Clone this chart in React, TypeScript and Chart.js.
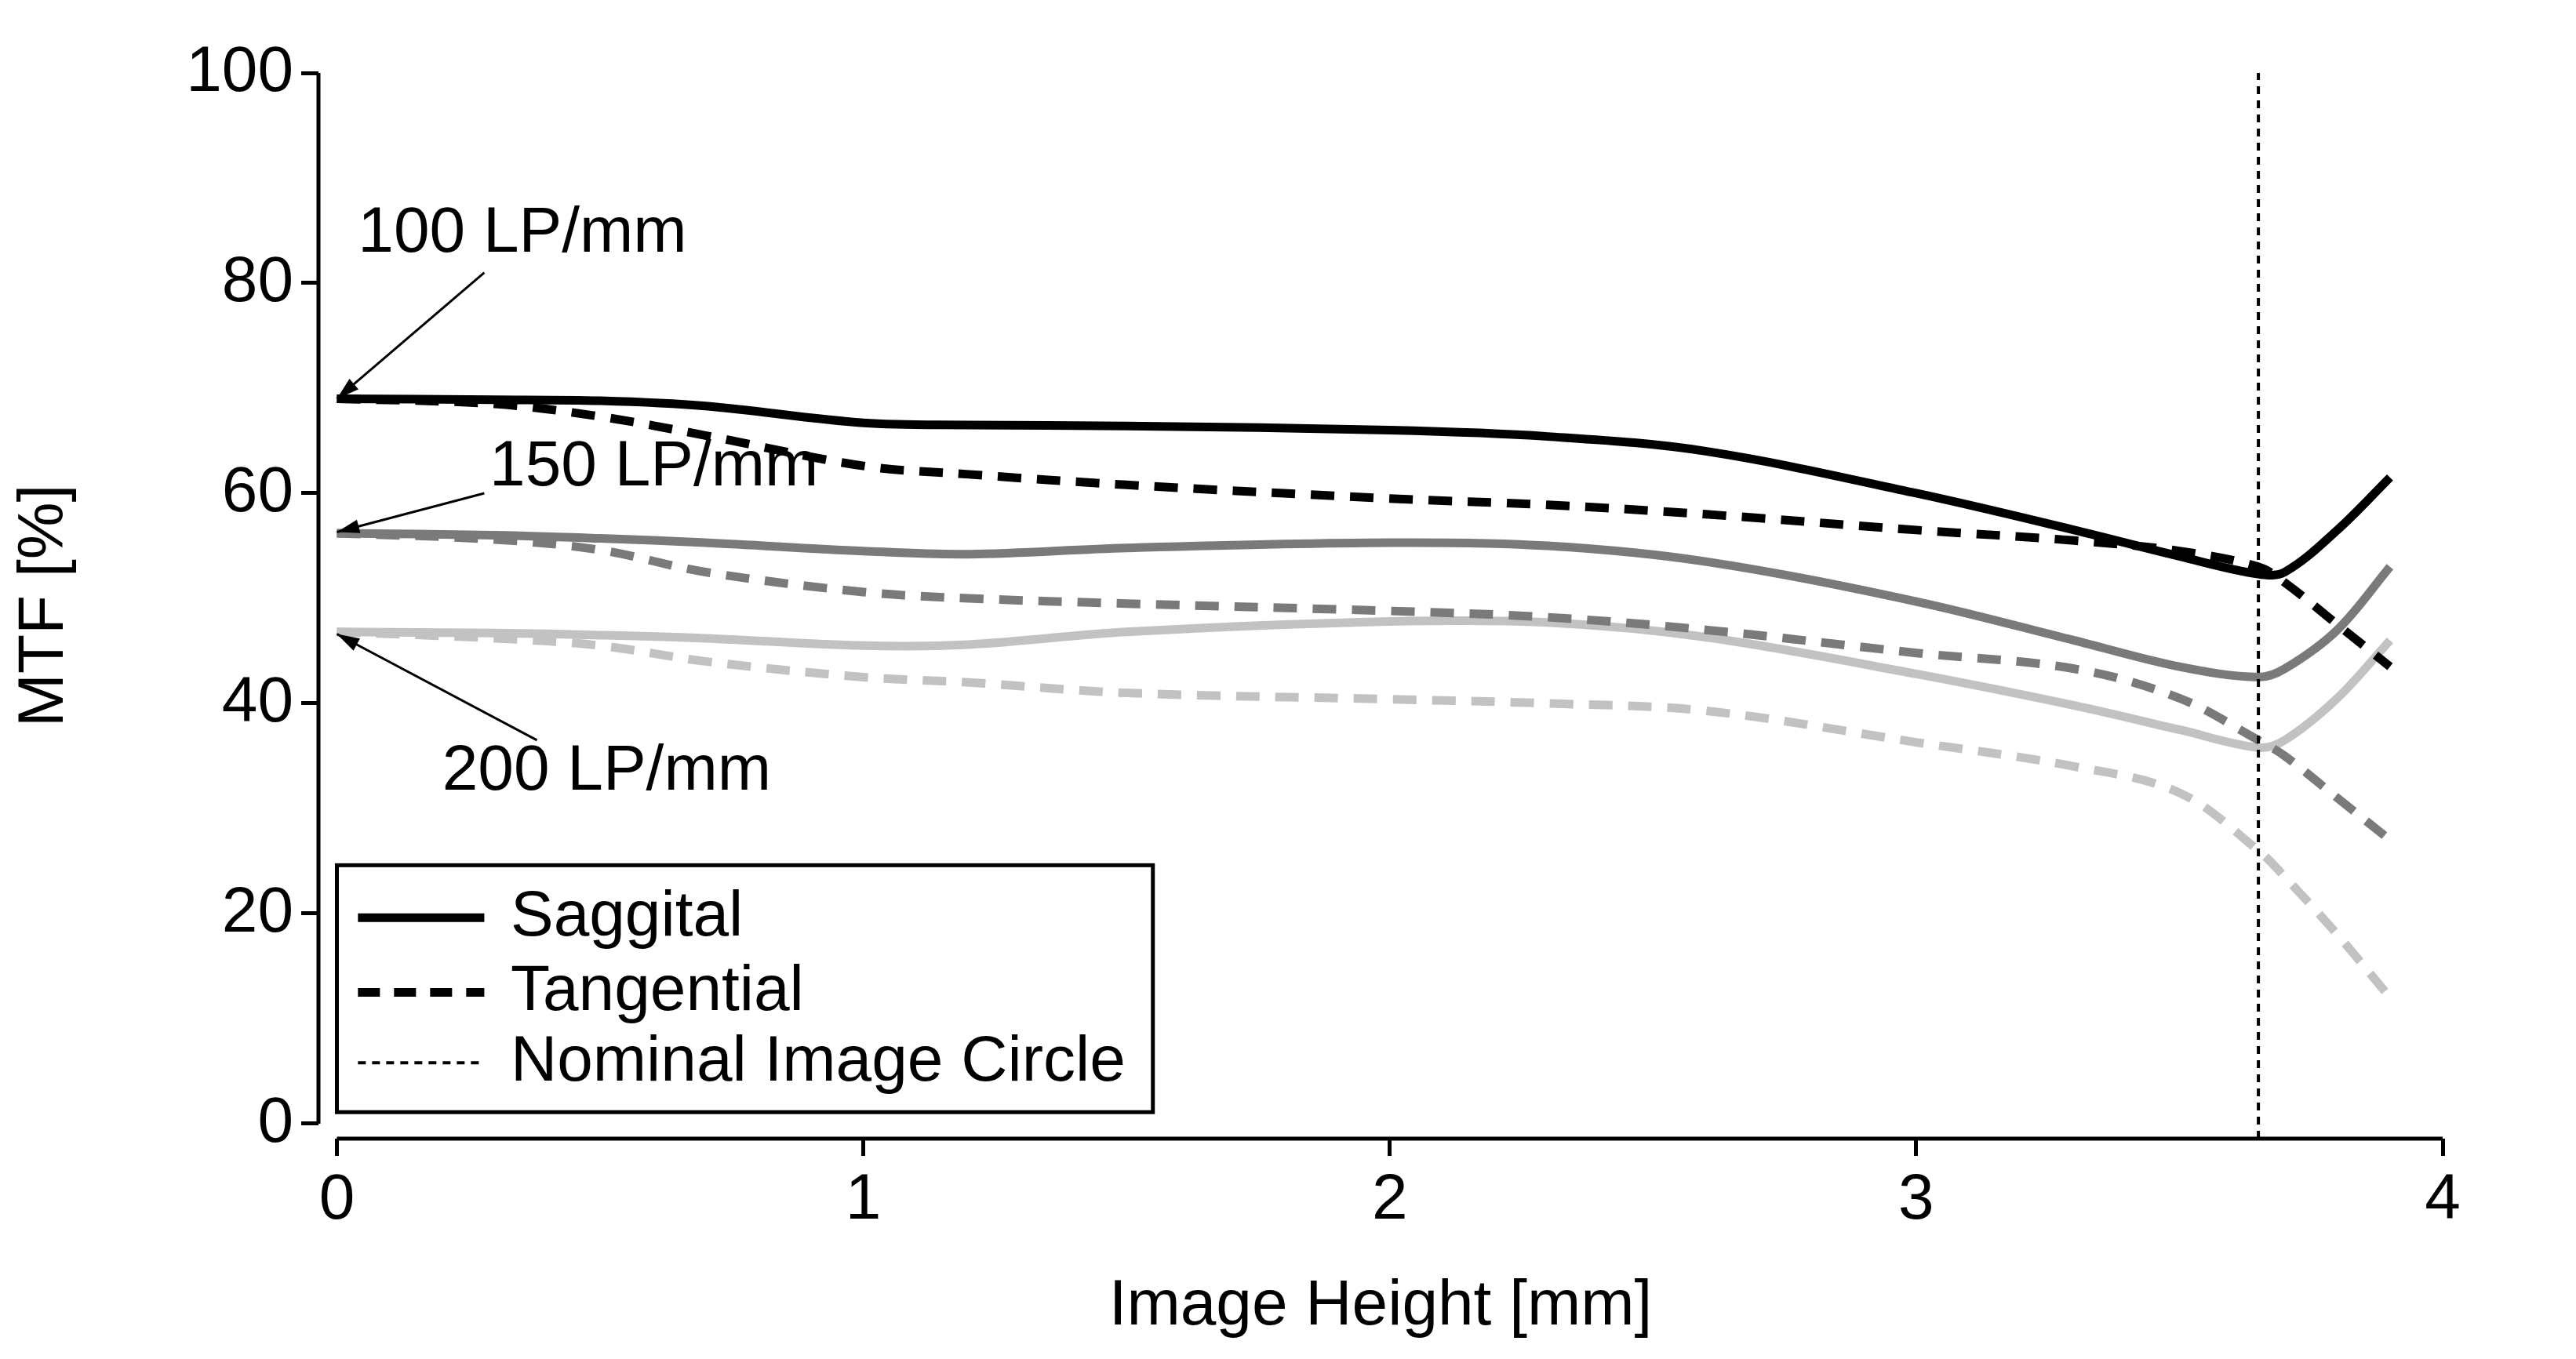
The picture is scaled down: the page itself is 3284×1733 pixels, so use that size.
import { useEffect, useRef } from 'react'
import Chart from 'chart.js/auto'

const heights = [0, 0.3, 0.5, 0.7, 1, 1.2, 1.5, 2, 2.3, 2.6, 3, 3.3, 3.5, 3.65, 3.7, 3.8, 3.9]
const sag100 = [69, 68.9, 68.8, 68.3, 66.7, 66.5, 66.4, 66, 65.4, 64, 60, 56.5, 54, 52.3, 52.5, 56.5, 61.5]
const tan100 = [69, 68.5, 67.3, 65.5, 62.6, 61.8, 60.8, 59.5, 58.9, 58, 56.5, 55.5, 54.5, 53, 51.5, 47.5, 43.5]
const sag150 = [56.2, 56, 55.7, 55.3, 54.5, 54.2, 54.8, 55.3, 55, 53.5, 49.7, 46, 43.5, 42.5, 43.3, 47, 53]
const tan150 = [56.2, 55.6, 54.6, 52.5, 50.6, 50, 49.5, 48.8, 48.2, 47, 44.8, 43.3, 40.5, 36.5, 35, 31, 27]
const sag200 = [46.8, 46.7, 46.5, 46.2, 45.5, 45.6, 46.8, 47.8, 47.7, 46.3, 42.8, 39.8, 37.5, 35.8, 36.5, 40.5, 46]
const tan200 = [46.8, 46.2, 45.5, 44, 42.5, 42, 41, 40.4, 40, 39.3, 36.3, 34, 31.5, 26, 23.5, 18, 12]
const xTicks = [0, 1, 2, 3, 4]
const yTicks = [0, 20, 40, 60, 80, 100]
const circleX = 3.65
const freqLabels = [
  { text: '100 LP/mm', x: 0.04, y: 84.7, from: [0.28, 81], to: [0.0, 69] },
  { text: '150 LP/mm', x: 0.29, y: 62.4, from: [0.28, 60], to: [0.0, 56.3] },
  { text: '200 LP/mm', x: 0.2, y: 33.5, from: [0.38, 36.5], to: [0.0, 46.6] },
]
const legendItems = ['Saggital', 'Tangential', 'Nominal Image Circle']

const FONT = '"Liberation Sans", Arial, sans-serif'
const FS = 82
const BLACK = '#000000'
const GREY = '#7a7a7a'
const LIGHT = '#c2c2c2'
const DASH = [30, 20]

const pts = (ys: number[]) => ys.map((y, i) => ({ x: heights[i], y }))

export default function App() {
  const canvasRef = useRef<HTMLCanvasElement>(null)

  useEffect(() => {
    if (!canvasRef.current) return
    const line = (data: number[], color: string, dashed: boolean) => ({
      data: pts(data),
      borderColor: color,
      borderWidth: 11,
      borderDash: dashed ? DASH : [],
      pointRadius: 0,
      tension: 0.35,
      fill: false,
    })

    const overlay = {
      id: 'overlay',
      afterDraw(chart: any) {
        const { ctx } = chart
        const xs = chart.scales.x
        const ys = chart.scales.y
        const X = (v: number) => xs.getPixelForValue(v)
        const Y = (v: number) => ys.getPixelForValue(v)
        ctx.save()
        // axes
        ctx.strokeStyle = BLACK
        ctx.lineWidth = 5
        ctx.setLineDash([])
        ctx.beginPath()
        ctx.moveTo(X(0), chart.chartArea.bottom)
        ctx.lineTo(X(4), chart.chartArea.bottom)
        ctx.moveTo(chart.chartArea.left, Y(0))
        ctx.lineTo(chart.chartArea.left, Y(100))
        ctx.stroke()
        // nominal image circle
        ctx.lineWidth = 4
        ctx.setLineDash([10, 8])
        ctx.beginPath()
        ctx.moveTo(X(circleX), chart.chartArea.bottom)
        ctx.lineTo(X(circleX), Y(100))
        ctx.stroke()
        // frequency labels
        ctx.setLineDash([])
        ctx.fillStyle = BLACK
        ctx.font = `${FS}px ${FONT}`
        ctx.textBaseline = 'middle'
        ctx.textAlign = 'left'
        ctx.lineWidth = 3
        freqLabels.forEach(l => {
          ctx.fillText(l.text, X(l.x), Y(l.y))
          const x1 = X(l.from[0]), y1 = Y(l.from[1]), x2 = X(l.to[0]), y2 = Y(l.to[1])
          ctx.beginPath()
          ctx.moveTo(x1, y1)
          ctx.lineTo(x2, y2)
          ctx.stroke()
          const a = Math.atan2(y2 - y1, x2 - x1)
          ctx.beginPath()
          ctx.moveTo(x2, y2)
          ctx.lineTo(x2 - 30 * Math.cos(a - 0.3), y2 - 30 * Math.sin(a - 0.3))
          ctx.lineTo(x2 - 30 * Math.cos(a + 0.3), y2 - 30 * Math.sin(a + 0.3))
          ctx.closePath()
          ctx.fill()
        })
        // legend box
        const bx = X(0), by = Y(24.6), bw = X(1.55) - X(0), bh = Y(1.1) - Y(24.6)
        ctx.fillStyle = '#ffffff'
        ctx.fillRect(bx, by, bw, bh)
        ctx.strokeStyle = BLACK
        ctx.lineWidth = 5
        ctx.strokeRect(bx, by, bw, bh)
        const rows = [19.6, 12.5, 5.8]
        legendItems.forEach((t, i) => {
          const yy = Y(rows[i])
          ctx.beginPath()
          if (i === 0) { ctx.lineWidth = 11; ctx.setLineDash([]) }
          else if (i === 1) { ctx.lineWidth = 11; ctx.setLineDash([28, 18]) }
          else { ctx.lineWidth = 4; ctx.setLineDash([10, 8]) }
          ctx.moveTo(X(0.04), yy)
          ctx.lineTo(X(0.28), yy)
          ctx.stroke()
          ctx.setLineDash([])
          ctx.fillStyle = BLACK
          ctx.fillText(t, X(0.33), yy)
        })
        ctx.restore()
      },
    }

    const chart = new Chart(canvasRef.current, {
      type: 'line',
      data: {
        datasets: [
          line(sag100, BLACK, false),
          line(tan100, BLACK, true),
          line(sag150, GREY, false),
          line(tan150, GREY, true),
          line(sag200, LIGHT, false),
          line(tan200, LIGHT, true),
        ],
      },
      options: {
        animation: false,
        responsive: false,
        devicePixelRatio: 1,
        layout: { padding: { top: 85, right: 162, left: 0, bottom: 0 } },
        plugins: { legend: { display: false }, tooltip: { enabled: false } },
        scales: {
          x: {
            type: 'linear',
            min: -0.035,
            max: 4,
            afterBuildTicks: (s: any) => { s.ticks = xTicks.map(v => ({ value: v })) },
            afterFit: (s: any) => { s.height = 268 },
            border: { display: false },
            grid: { drawOnChartArea: false, drawTicks: true, tickLength: 22, color: BLACK, lineWidth: 5 },
            ticks: { color: BLACK, font: { size: FS, family: FONT }, padding: 8, maxRotation: 0 },
            title: { display: true, text: 'Image Height [mm]', color: BLACK, font: { size: FS, family: FONT }, padding: { top: 20 } },
          },
          y: {
            type: 'linear',
            min: -1.42,
            max: 100,
            afterBuildTicks: (s: any) => { s.ticks = yTicks.map(v => ({ value: v })) },
            afterFit: (s: any) => { s.width = 398 },
            border: { display: false },
            grid: { drawOnChartArea: false, drawTicks: true, tickLength: 22, color: BLACK, lineWidth: 5 },
            ticks: { color: BLACK, font: { size: FS, family: FONT }, padding: 10 },
            title: { display: true, text: 'MTF [%]', color: BLACK, font: { size: FS, family: FONT }, padding: { top: 0, bottom: 0 } },
          },
        },
      },
      plugins: [overlay],
    })
    return () => chart.destroy()
  }, [])

  return (
    <div style={{ width: 3268, height: 1712, background: '#fff' }}>
      <canvas ref={canvasRef} width={3268} height={1712} />
    </div>
  )
}
